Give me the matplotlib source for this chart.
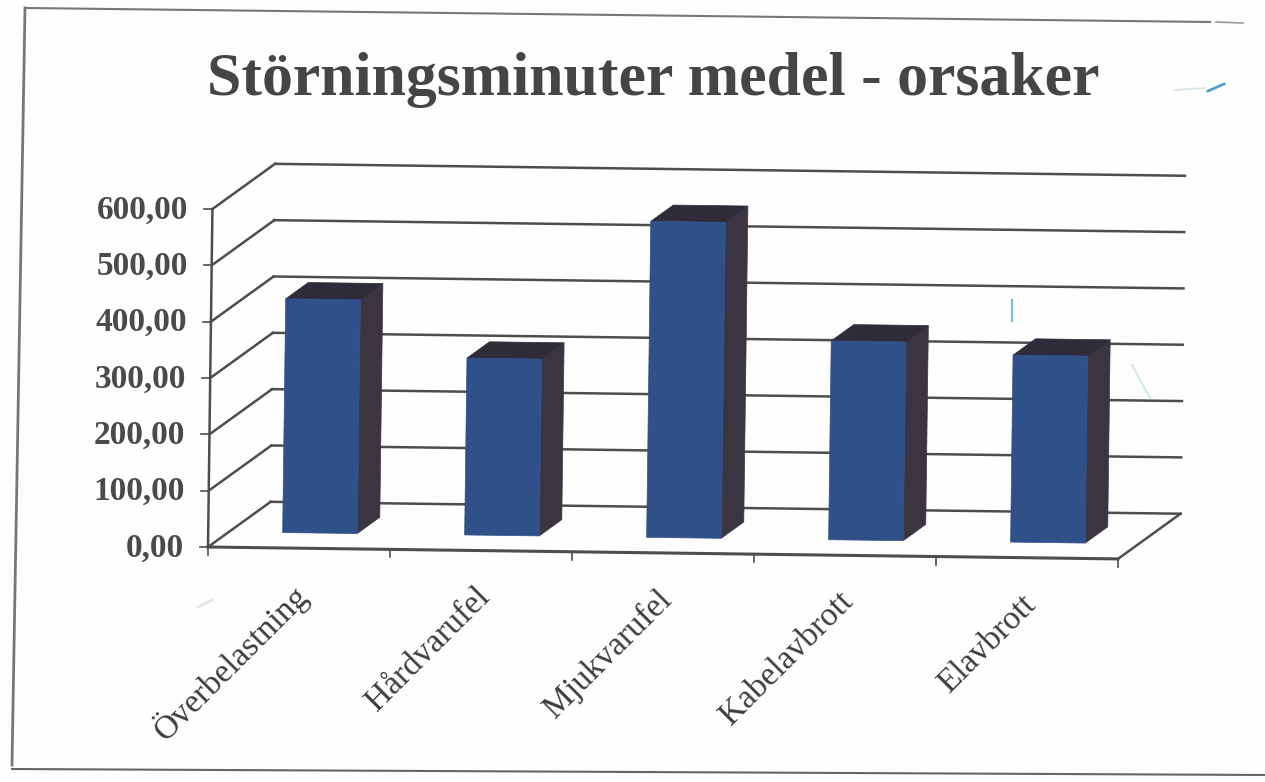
import matplotlib
matplotlib.use("Agg")
import matplotlib.pyplot as plt
from matplotlib.lines import Line2D
from matplotlib.patches import Polygon
from matplotlib.transforms import Affine2D, IdentityTransform

W, H = 1265, 782

categories = ["Överbelastning", "Hårdvarufel", "Mjukvarufel", "Kabelavbrott", "Elavbrott"]
values = [415, 314, 561, 353, 332]
yticks = [0, 100, 200, 300, 400, 500, 600]
ytick_labels = ["0,00", "100,00", "200,00", "300,00", "400,00", "500,00", "600,00"]
title = "Störningsminuter medel - orsaker"

FRONT = "#2f5088"
SIDE = "#3b3542"
TOP = "#2f2b38"
GRID = "#4d4d4d"
TEXT = "#3d3d3d"

plt.rcParams["font.family"] = ["Liberation Serif", "DejaVu Serif"]

fig = plt.figure(figsize=(W / 100, H / 100), dpi=100, facecolor="#fefefe")

# corner of the front plane, in pixels from the bottom left
x0, y0 = 208, H - 547
ax = fig.add_axes([x0 / W, y0 / H, 910 / W, 338 / H])
ax.set_xlim(0, 5)
ax.set_ylim(0, 600)
ax.axis("off")


def plane(d):
    # the scan is tilted a bit, and d moves into the depth of the 3d box
    return ax.transData + Affine2D().translate(62 * d, 46 * d).rotate_deg_around(x0, y0, -0.75)


def pt(x, v, d):
    return plane(d).transform((x, v))


def line(points, color=GRID, lw=1.8):
    xs, ys = zip(*points)
    fig.add_artist(Line2D(xs, ys, color=color, lw=lw, transform=IdentityTransform()))


def poly(points, color, z=3):
    fig.add_artist(Polygon(points, closed=True, fc=color, ec=color, lw=0.5,
                           transform=IdentityTransform(), zorder=z))


def page(x, y):
    return (x, H - y)


# walls
for v in yticks:
    if v > 0:
        line([pt(0, v, 1), pt(5, v, 1)])
    line([pt(0, v, 0), pt(0, v, 1)])
    a = pt(0, v, 0)
    line([(a[0] - 8, a[1]), a], lw=1.2)
line([pt(0, 0, 1), pt(5, 0, 1)])
line([pt(0, 0, 0), pt(0, 600, 0)])
line([pt(0, 0, 0), pt(5, 0, 0)], lw=2.2)
line([pt(5, 0, 0), pt(5, 0, 1)])
for i in range(6):
    a = pt(i, 0, 0)
    line([a, (a[0], a[1] - 8)], lw=1.2)

# bars
bw = 0.205
d1, d2 = 0.335, 0.695
for i, v in enumerate(values):
    c = i + 0.5
    poly([pt(c + bw, 0, d1), pt(c + bw, 0, d2), pt(c + bw, v, d2), pt(c + bw, v, d1)], SIDE)
    poly([pt(c - bw, v, d1), pt(c + bw, v, d1), pt(c + bw, v, d2), pt(c - bw, v, d2)], TOP)
    poly([pt(c - bw, 0, d1), pt(c + bw, 0, d1), pt(c + bw, v, d1), pt(c - bw, v, d1)], FRONT, z=4)

# texts
for v, s in zip(yticks, ytick_labels):
    ax.annotate(s, xy=(0, v), xycoords=plane(0), xytext=(-24, -1), textcoords="offset pixels",
                ha="right", va="center", fontsize=24, fontweight="bold", color="#4a4a4a",
                annotation_clip=False)

for i, s in enumerate(categories):
    ax.annotate(s, xy=(i + 0.5, 0), xycoords=plane(0), xytext=(4, -42), textcoords="offset pixels",
                ha="right", va="center", rotation=45, rotation_mode="anchor",
                fontsize=24, color=TEXT, annotation_clip=False)

fig.text(207, H - 95, title, transform=None, fontsize=44.5, fontweight="bold",
         color="#454545", ha="left", va="baseline")

# frame of the scanned page
line([page(26, 8), page(1210, 22)], color="#777777", lw=1.5)
line([page(1216, 22), page(1243, 23)], color="#999999", lw=1.2)
line([page(25, 8), page(12, 765)], color="#777777", lw=2.0)
line([page(12, 769), page(1265, 775)], color="#666666", lw=1.5)

# specks of the scan
line([page(1175, 90), page(1205, 88)], color="#d5e3ea", lw=1.2)
line([page(1208, 91), page(1224, 84)], color="#4f9fd0", lw=2.0)
line([page(1012, 300), page(1012, 321)], color="#6fc0e0", lw=1.5)
line([page(1132, 365), page(1150, 398)], color="#cfeaf2", lw=1.5)
line([page(198, 607), page(212, 600)], color="#dfeae6", lw=2.0)

fig.savefig("out.png", dpi=100, facecolor=fig.get_facecolor())
